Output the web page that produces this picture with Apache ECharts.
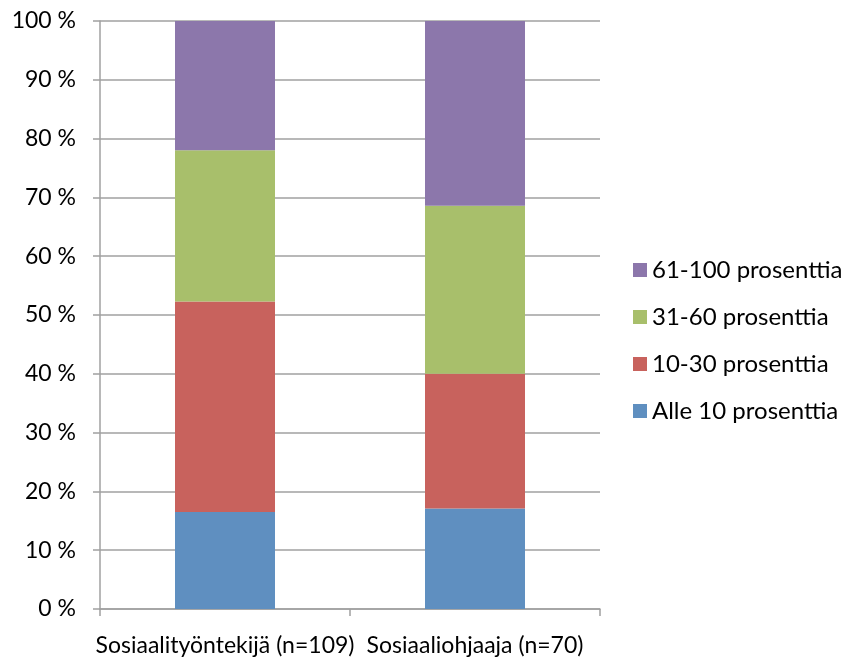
<!DOCTYPE html>
<html><head><meta charset="utf-8">
<script src="https://cdn.jsdelivr.net/npm/echarts@6/dist/echarts.min.js"></script>
<style>html,body{margin:0;padding:0;background:#fff}#c{width:847px;height:666px}</style>
</head><body><div id="c"></div>
<script>
var categories = ['Sosiaalityöntekijä (n=109)', 'Sosiaaliohjaaja (n=70)'];
var seriesNames = ['Alle 10 prosenttia', '10-30 prosenttia', '31-60 prosenttia', '61-100 prosenttia'];
var alle10 = [16.5, 17.1];
var p10_30 = [35.8, 22.9];
var p31_60 = [25.7, 28.6];
var p61_100 = [22.0, 31.4];
var yTicks = [0, 10, 20, 30, 40, 50, 60, 70, 80, 90, 100];
var colors = ['#5f8fc0', '#c8625d', '#a8bf6b', '#8c77ab'];

var values = [alle10, p10_30, p31_60, p61_100];
var font = 'Lato, "Open Sans", sans-serif';
var chart = echarts.init(document.getElementById('c'), null, {renderer: 'canvas'});
chart.setOption({
  animation: false,
  textStyle: {fontFamily: font},
  grid: {left: 100, right: 247, top: 21, bottom: 57, containLabel: false},
  legend: {
    orient: 'vertical', left: 633, top: 258, padding: 0,
    data: seriesNames.slice().reverse(),
    itemWidth: 14, itemHeight: 14, itemGap: 23,
    icon: 'rect',
    textStyle: {fontSize: 24, lineHeight: 24, color: '#000', fontFamily: font, padding: [0, 0, 0, 0]}
  },
  xAxis: {
    type: 'category', data: categories,
    axisLine: {lineStyle: {color: '#a0a0a0', width: 1.5}},
    axisTick: {show: true, length: 7, lineStyle: {color: '#a0a0a0', width: 1.5}},
    axisLabel: {fontSize: 23, color: '#000', margin: 25, fontFamily: font, interval: 0, hideOverlap: false}
  },
  yAxis: {
    type: 'value', min: 0, max: 100, interval: 10,
    axisLine: {show: true, lineStyle: {color: '#a0a0a0', width: 1.5}},
    axisTick: {show: true, length: 7, lineStyle: {color: '#a0a0a0', width: 1.5}},
    splitLine: {lineStyle: {color: '#a0a0a0', width: 1.5}},
    axisLabel: {fontSize: 23, color: '#000', margin: 24, fontFamily: font,
      formatter: function(v){ return yTicks.indexOf(v) >= 0 ? v + ' %' : ''; }}
  },
  series: seriesNames.map(function(n, i){
    return {name: n, type: 'bar', stack: 'a', data: values[i], barWidth: '40%',
      itemStyle: {color: colors[i]}};
  })
});
</script></body></html>
